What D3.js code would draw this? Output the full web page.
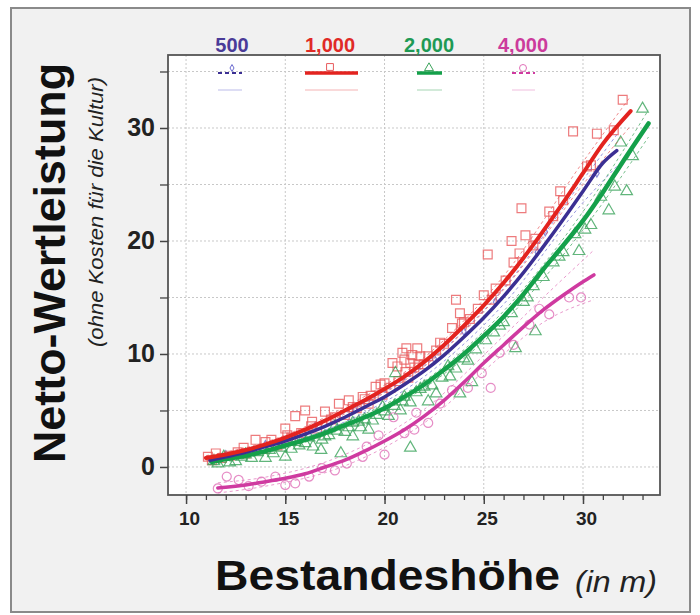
<!DOCTYPE html>
<html>
<head>
<meta charset="utf-8">
<script src="https://cdn.jsdelivr.net/npm/d3@7"></script>
<style>
  body { margin: 0; background: #fff; }
  svg text { font-family: "Liberation Sans", Arial, sans-serif; }
</style>
</head>
<body>
<div id="chart"></div>
<script>
// series labels (stand density) and colours
const seriesNames = ["500", "1,000", "2,000", "4,000"];
const lineColors = ["#3b2f93", "#e3231f", "#14a04a", "#cf3aa0"];
const labelColors = ["#4a3b98", "#e02a26", "#1e9a55", "#cc3b9c"];
const pointColors = ["#6a6ad0", "#e85a5c", "#3aa35a", "#e070b8"];

const xTicks = [10, 15, 20, 25, 30];
const yTicks = [0, 10, 20, 30];

// fitted curves [height, value]
const fit500 = [[11.2,0.6],[12,0.9],[13,1.3],[14,1.8],[15,2.3],[16,2.9],[17,3.6],[18,4.4],[19,5.3],[20,6.2],[21,7.3],[22,8.5],[23,9.9],[24,11.5],[25,13.2],[26,15.1],[27,17.2],[28,19.5],[29,21.9],[30,24.4],[31,26.9],[31.7,28.0]];
const fit1000 = [[11,0.8],[12,1.1],[13,1.5],[14,2.0],[15,2.6],[16,3.3],[17,4.1],[18,5.0],[19,5.9],[20,6.9],[21,8.0],[22,9.3],[23,10.8],[24,12.5],[25,14.3],[26,16.3],[27,18.5],[28,20.9],[29,23.4],[30,26.0],[31,28.6],[32.4,31.5]];
const fit2000 = [[11.3,0.45],[12,0.7],[13,1.0],[14,1.4],[15,1.9],[16,2.4],[17,3.0],[18,3.7],[19,4.4],[20,5.2],[21,6.2],[22,7.3],[23,8.6],[24,10.0],[25,11.6],[26,13.3],[27,15.3],[28,17.5],[29,19.6],[30,21.8],[31,24.3],[32,27.0],[33.3,30.4]];
const fit4000 = [[11.6,-1.85],[12,-1.8],[13,-1.6],[14,-1.3],[15,-1.0],[16,-0.6],[17,0.0],[18,0.6],[19,1.4],[20,2.3],[21,3.3],[22,4.5],[23,5.9],[24,7.5],[25,9.2],[26,10.8],[27,12.4],[28,13.9],[29,15.2],[30,16.4],[30.55,17.0]];

// confidence bands
const band500Hi = [[11.2,0.9],[14,2.1],[18,4.8],[22,9.0],[26,15.8],[30,25.4],[31.7,29.4]];
const band500Lo = [[11.2,0.3],[14,1.5],[18,4.0],[22,8.0],[26,14.4],[30,23.4],[31.7,26.6]];
const band1000Hi = [[11,1.0],[14,2.2],[18,5.3],[22,9.7],[26,16.9],[30,27.0],[32.4,32.8]];
const band1000Lo = [[11,0.6],[14,1.8],[18,4.7],[22,8.9],[26,15.7],[30,25.0],[32.4,30.2]];
const band2000Hi = [[11.3,0.7],[14,1.6],[18,3.95],[22,7.6],[26,13.8],[30,22.6],[33.3,31.6]];
const band2000Lo = [[11.3,0.2],[14,1.2],[18,3.45],[22,7.0],[26,12.8],[30,21.0],[33.3,29.2]];
const band4000Hi = [[11.6,-1.4],[14,-0.9],[18,1.1],[22,5.1],[26,11.6],[28,15.0],[30.55,19.2]];
const band4000Lo = [[11.6,-2.3],[14,-1.7],[18,0.1],[22,3.9],[26,10.0],[28,12.8],[30.55,14.8]];

// observed stands
const pts500 = [[12.0,1.1],[14.0,2.0],[16.5,3.6],[18.5,5.1],[22.5,9.6],[24.0,12.0],[25.6,14.6],[27.7,19.0],[28.1,20.8],[30.7,26.0]];
const pts1000 = [[11.1,0.9],[11.5,1.2],[11.3,0.6],[11.8,0.8],[12.2,1.0],[12.6,1.3],[12.9,1.7],[13.0,1.2],[13.5,2.4],[13.9,1.6],[14.0,2.2],[14.3,2.4],[14.6,1.9],[15.0,3.4],[15.1,2.8],[15.3,2.6],[15.5,4.5],[15.8,3.0],[16.0,5.0],[16.3,3.6],[16.35,4.0],[16.6,3.4],[17.0,4.9],[17.3,4.2],[17.5,4.4],[17.7,5.6],[18.0,4.6],[18.2,5.9],[18.4,5.3],[18.6,5.2],[18.9,6.2],[19.0,6.0],[19.2,5.6],[19.3,6.3],[19.55,7.1],[19.8,7.3],[19.9,6.4],[20.0,7.4],[20.3,7.0],[20.4,9.2],[20.7,7.6],[21.1,10.5],[21.65,10.5],[21.4,9.9],[21.8,9.8],[21.0,9.5],[20.65,8.9],[21.3,9.2],[21.05,8.4],[21.5,8.8],[21.2,7.9],[21.7,9.1],[20.9,10.1],[22.0,9.1],[22.2,9.8],[22.6,10.3],[22.8,11.0],[23.0,10.9],[23.4,12.3],[23.9,12.7],[24.0,12.8],[23.8,13.6],[24.7,14.0],[23.6,14.8],[24.3,13.1],[25.2,18.8],[25.0,15.2],[25.4,14.8],[25.6,15.8],[26.1,16.5],[26.5,18.1],[26.8,18.9],[26.4,20.0],[27.1,20.5],[27.5,19.6],[27.6,20.2],[26.9,22.9],[28.3,22.6],[28.5,22.2],[28.85,24.4],[29.0,23.6],[29.5,29.7],[30.2,26.6],[30.4,26.7],[30.7,29.5],[31.55,29.8],[32.0,32.5]];
const pts2000 = [[11.4,0.5],[11.6,0.3],[11.9,0.9],[12.2,0.4],[12.5,0.5],[12.8,0.9],[13.0,1.1],[13.3,0.8],[13.6,1.3],[14.0,0.8],[14.2,1.5],[14.4,1.2],[14.8,1.7],[15.0,0.9],[15.3,1.6],[15.5,2.2],[15.7,1.9],[16.0,2.1],[16.2,2.6],[16.4,1.8],[16.8,1.5],[16.85,2.4],[17.0,2.7],[17.2,2.8],[17.5,3.6],[17.6,3.2],[17.8,1.2],[18.0,3.1],[18.2,3.5],[18.4,2.7],[18.4,3.9],[18.7,4.0],[18.8,3.5],[19.0,4.2],[19.2,3.3],[19.4,4.1],[19.6,4.6],[19.9,5.3],[20.0,4.9],[20.2,4.5],[20.55,8.3],[20.5,5.4],[20.8,5.0],[20.9,5.8],[21.0,6.2],[21.3,5.7],[21.3,1.7],[21.6,6.6],[21.8,6.9],[22.2,5.8],[22.4,7.2],[22.6,6.5],[22.0,7.1],[22.9,7.9],[23.2,8.9],[23.6,8.7],[23.8,6.5],[23.3,8.0],[24.2,9.4],[24.4,7.5],[24.0,9.6],[24.6,10.4],[25.1,11.2],[25.5,11.9],[25.8,12.5],[26.0,12.8],[26.6,10.5],[26.4,13.6],[27.0,14.6],[27.2,15.0],[27.6,12.0],[27.5,16.0],[28.0,16.8],[28.5,18.1],[28.8,18.6],[29.0,19.0],[29.8,19.1],[30.1,21.0],[30.4,21.4],[29.6,20.6],[31.3,22.7],[31.6,24.8],[30.9,23.9],[32.2,24.4],[31.9,28.7],[32.5,27.5],[33.0,31.7]];
const pts4000 = [[11.6,-1.9],[12.05,-0.85],[12.65,-1.15],[13.15,-1.7],[13.8,-1.3],[14.5,-0.85],[15.0,-1.6],[15.5,-1.45],[16.2,-0.85],[16.85,-0.1],[17.5,-0.3],[18.1,0.3],[18.9,0.9],[19.1,1.8],[19.7,2.8],[20.0,1.1],[20.45,4.4],[21.0,3.0],[21.5,3.3],[21.6,4.8],[22.2,3.9],[22.8,5.6],[23.4,6.8],[24.2,7.0],[24.9,8.3],[25.35,7.0],[25.8,10.1],[26.5,10.8],[27.3,12.6],[27.8,14.0],[28.3,13.5],[29.3,15.0],[29.9,15.0]];

const fits = [fit500, fit1000, fit2000, fit4000];
const bands = [[band500Hi, band500Lo], [band1000Hi, band1000Lo], [band2000Hi, band2000Lo], [band4000Hi, band4000Lo]];
const points = [pts500, pts1000, pts2000, pts4000];
const symbols = [d3.symbolDiamond, d3.symbolSquare, d3.symbolTriangle, d3.symbolCircle];
const symbolSizes = [18, 78, 58, 64];

const W = 700, H = 615;
const plot = {left: 168, right: 660, top: 55, bottom: 495};

const svg = d3.select("#chart").append("svg")
  .attr("width", W).attr("height", H);

// outer panel
svg.append("rect")
  .attr("x", 11).attr("y", 8).attr("width", 679).attr("height", 604)
  .attr("fill", "#f1f1f1").attr("stroke", "#8a8a8a").attr("stroke-width", 2);

const x = d3.scaleLinear().domain([9.09, 33.88]).range([plot.left, plot.right]);
const y = d3.scaleLinear().domain([-2.48, 36.46]).range([plot.bottom, plot.top]);

svg.append("rect")
  .attr("x", plot.left).attr("y", plot.top)
  .attr("width", plot.right - plot.left).attr("height", plot.bottom - plot.top)
  .attr("fill", "#fff");

// grid
svg.append("g").selectAll("line")
  .data(xTicks).join("line")
  .attr("x1", d => x(d)).attr("x2", d => x(d))
  .attr("y1", plot.top).attr("y2", plot.bottom)
  .attr("stroke", "#c8c8c8").attr("stroke-dasharray", "2,2");
svg.append("g").selectAll("line")
  .data(d3.range(0, 36, 5)).join("line")
  .attr("x1", plot.left).attr("x2", plot.right)
  .attr("y1", d => y(d)).attr("y2", d => y(d))
  .attr("stroke", "#c8c8c8").attr("stroke-dasharray", "2,2");

// points
points.forEach((pts, i) => {
  svg.append("g").selectAll("path")
    .data(pts).join("path")
    .attr("transform", d => `translate(${x(d[0])},${y(d[1])})`)
    .attr("d", d3.symbol(symbols[i], symbolSizes[i]))
    .attr("fill", "none")
    .attr("stroke", pointColors[i])
    .attr("stroke-width", 1.2)
    .attr("opacity", 0.8);
});

const line = d3.line().x(d => x(d[0])).y(d => y(d[1])).curve(d3.curveMonotoneX);

// confidence bands
bands.forEach((b, i) => {
  b.forEach(arr => {
    svg.append("path").datum(arr)
      .attr("d", line)
      .attr("fill", "none")
      .attr("stroke", pointColors[i])
      .attr("stroke-width", 1)
      .attr("stroke-dasharray", "3,3")
      .attr("opacity", 0.7);
  });
});

// fitted curves (drawn so red ends on top)
const order = [3, 2, 0, 1];
const widths = [3.5, 4, 4.5, 3.5];
order.forEach(i => {
  svg.append("path").datum(fits[i])
    .attr("d", line)
    .attr("fill", "none")
    .attr("stroke", lineColors[i])
    .attr("stroke-width", widths[i])
    .attr("stroke-linecap", "round");
});

// frame
svg.append("rect")
  .attr("x", plot.left).attr("y", plot.top)
  .attr("width", plot.right - plot.left).attr("height", plot.bottom - plot.top)
  .attr("fill", "none").attr("stroke", "#555").attr("stroke-width", 1.8);

// x axis
const xAxis = svg.append("g")
  .attr("transform", `translate(0,${plot.bottom})`)
  .call(d3.axisBottom(x).tickValues(d3.range(10, 34, 1)).tickSize(5).tickFormat(""));
xAxis.select(".domain").remove();
xAxis.selectAll("line").attr("stroke", "#444").attr("stroke-width", 1.3);
const xMajor = svg.append("g")
  .attr("transform", `translate(0,${plot.bottom})`)
  .call(d3.axisBottom(x).tickValues(xTicks).tickSize(9).tickPadding(8));
xMajor.select(".domain").remove();
xMajor.selectAll("line").attr("stroke", "#444").attr("stroke-width", 1.5);
xMajor.selectAll("text")
  .attr("dx", 3)
  .style("font-size", "19px").style("font-weight", "bold").attr("fill", "#222");

// y axis
const yMinor = svg.append("g")
  .attr("transform", `translate(${plot.left},0)`)
  .call(d3.axisLeft(y).tickValues([5, 15, 25, 35]).tickSize(8).tickFormat(""));
yMinor.select(".domain").remove();
yMinor.selectAll("line").attr("stroke", "#444").attr("stroke-width", 1.3);
const yAxis = svg.append("g")
  .attr("transform", `translate(${plot.left},0)`)
  .call(d3.axisLeft(y).tickValues(yTicks).tickSize(8).tickPadding(5));
yAxis.select(".domain").remove();
yAxis.selectAll("line").attr("stroke", "#444").attr("stroke-width", 1.5);
yAxis.selectAll("text")
  .style("font-size", "25px").style("font-weight", "bold").attr("fill", "#222");

// legend
const legX = [232, 330, 429, 523];
const legLine = [[218, 242], [305, 358], [417, 442], [512, 535]];
const legDash = ["4,3", null, null, "4,3"];
const legWidth = [1.8, 3.5, 3.5, 1.8];
seriesNames.forEach((name, i) => {
  svg.append("text")
    .attr("x", legX[i]).attr("y", 52)
    .attr("text-anchor", "middle")
    .style("font-size", "20px").style("font-weight", "bold")
    .attr("fill", labelColors[i])
    .text(name);
  svg.append("line")
    .attr("x1", legLine[i][0]).attr("x2", legLine[i][1])
    .attr("y1", 73).attr("y2", 73)
    .attr("stroke", lineColors[i]).attr("stroke-width", legWidth[i])
    .attr("stroke-dasharray", legDash[i]);
  svg.append("path")
    .attr("transform", `translate(${legX[i]},${i === 1 ? 67 : 68})`)
    .attr("d", d3.symbol(symbols[i], i === 0 ? 14 : symbolSizes[i] * 0.6))
    .attr("fill", "none").attr("stroke", pointColors[i]).attr("stroke-width", 1);
  svg.append("line")
    .attr("x1", legLine[i][0]).attr("x2", legLine[i][1])
    .attr("y1", 90).attr("y2", 90)
    .attr("stroke", pointColors[i]).attr("stroke-width", 1)
    .attr("opacity", 0.45);
});

// axis titles
svg.append("text")
  .attr("transform", "translate(65,263) rotate(-90)")
  .attr("text-anchor", "middle")
  .attr("textLength", 400).attr("lengthAdjust", "spacingAndGlyphs")
  .style("font-size", "44px").style("font-weight", "bold").attr("fill", "#111")
  .text("Netto-Wertleistung");
svg.append("text")
  .attr("transform", "translate(103,212) rotate(-90)")
  .attr("text-anchor", "middle")
  .attr("textLength", 270).attr("lengthAdjust", "spacingAndGlyphs")
  .style("font-size", "21px").style("font-style", "italic").attr("fill", "#222")
  .text("(ohne Kosten für die Kultur)");
svg.append("text")
  .attr("x", 215).attr("y", 590)
  .attr("textLength", 345).attr("lengthAdjust", "spacingAndGlyphs")
  .style("font-size", "43px").style("font-weight", "bold").attr("fill", "#111")
  .text("Bestandeshöhe");
svg.append("text")
  .attr("x", 575).attr("y", 592)
  .attr("textLength", 82).attr("lengthAdjust", "spacingAndGlyphs")
  .style("font-size", "30px").style("font-style", "italic").attr("fill", "#222")
  .text("(in m)");
</script>
</body>
</html>
